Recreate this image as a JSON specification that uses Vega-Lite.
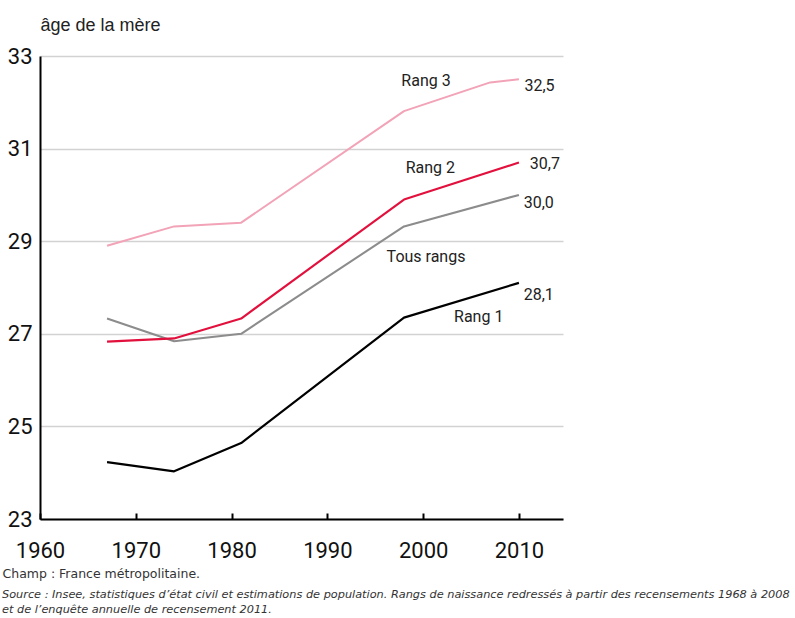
{
  "$schema": "https://vega.github.io/schema/vega-lite/v6.json",
  "autosize": "none",
  "width": 523,
  "height": 463,
  "padding": {"left": 40, "top": 56, "right": 232, "bottom": 99},
  "background": "white",
  "config": {"view": {"stroke": null}},
  "title": {
    "text": ["Source : Insee, statistiques d’état civil et estimations de population. Rangs de naissance redressés à partir des recensements 1968 à 2008", "et de l’enquête annuelle de recensement 2011."],
    "orient": "bottom",
    "anchor": "start",
    "frame": "group",
    "dx": -38,
    "offset": 9,
    "baseline": "top",
    "font": "DejaVu Sans",
    "fontStyle": "italic",
    "fontWeight": "normal",
    "fontSize": 11.3,
    "lineHeight": 15,
    "color": "#333333"
  },
  "datasets": {
    "series": [
      {"serie": "Rang 3", "year": 1967, "age": 28.9},
      {"serie": "Rang 3", "year": 1974, "age": 29.32},
      {"serie": "Rang 3", "year": 1981, "age": 29.4},
      {"serie": "Rang 3", "year": 1998, "age": 31.81},
      {"serie": "Rang 3", "year": 2007, "age": 32.43},
      {"serie": "Rang 3", "year": 2010, "age": 32.5},
      {"serie": "Tous rangs", "year": 1967, "age": 27.33},
      {"serie": "Tous rangs", "year": 1974, "age": 26.84},
      {"serie": "Tous rangs", "year": 1981, "age": 27.0},
      {"serie": "Tous rangs", "year": 1998, "age": 29.32},
      {"serie": "Tous rangs", "year": 2010, "age": 30.0},
      {"serie": "Rang 2", "year": 1967, "age": 26.83},
      {"serie": "Rang 2", "year": 1974, "age": 26.9},
      {"serie": "Rang 2", "year": 1981, "age": 27.33},
      {"serie": "Rang 2", "year": 1998, "age": 29.9},
      {"serie": "Rang 2", "year": 2010, "age": 30.7},
      {"serie": "Rang 1", "year": 1967, "age": 24.23},
      {"serie": "Rang 1", "year": 1974, "age": 24.03},
      {"serie": "Rang 1", "year": 1981, "age": 24.64},
      {"serie": "Rang 1", "year": 1998, "age": 27.35},
      {"serie": "Rang 1", "year": 2010, "age": 28.1}
    ],
    "labels": [
      {"label": "Rang 3", "kind": "serie", "year": 2000.3, "age": 32.35},
      {"label": "Rang 2", "kind": "serie", "year": 2000.75, "age": 30.48},
      {"label": "Tous rangs", "kind": "serie", "year": 2000.3, "age": 28.55},
      {"label": "Rang 1", "kind": "serie", "year": 2005.8, "age": 27.25},
      {"label": "32,5", "kind": "valeur", "year": 2010.57, "age": 32.25},
      {"label": "30,7", "kind": "valeur", "year": 2011.13, "age": 30.56},
      {"label": "30,0", "kind": "valeur", "year": 2010.5, "age": 29.71},
      {"label": "28,1", "kind": "valeur", "year": 2010.5, "age": 27.72}
    ]
  },
  "encoding": {
    "x": {
      "field": "year",
      "type": "quantitative",
      "scale": {"domain": [1960, 2014.6], "nice": false, "zero": false},
      "axis": {
        "values": [1960, 1970, 1980, 1990, 2000, 2010],
        "format": "d",
        "grid": false,
        "domainColor": "#000000",
        "domainWidth": 2,
        "ticks": true,
        "tickSize": -6,
        "tickWidth": 2,
        "tickColor": "#000000",
        "labelFont": "Roboto",
        "labelFontSize": 22,
        "labelColor": "#111111",
        "labelBaseline": "alphabetic",
        "labelPadding": 44,
        "labelFlush": false,
        "labelOverlap": false,
        "title": "Champ : France métropolitaine.",
        "titleFont": "DejaVu Sans",
        "titleFontSize": 12.5,
        "titleFontWeight": "normal",
        "titleColor": "#333333",
        "titleAlign": "left",
        "titleBaseline": "alphabetic",
        "titleAnchor": "start",
        "titleX": -38,
        "titleY": 58
      }
    },
    "y": {
      "field": "age",
      "type": "quantitative",
      "scale": {"domain": [23, 33], "nice": false, "zero": false},
      "axis": {
        "values": [23, 25, 27, 29, 31, 33],
        "grid": true,
        "gridColor": "#d2d2d2",
        "gridWidth": 1.5,
        "domainColor": "#000000",
        "domainWidth": 2,
        "ticks": false,
        "labelFont": "Roboto",
        "labelFontSize": 22,
        "labelColor": "#111111",
        "labelPadding": 8,
        "labelBaseline": "middle",
        "labelFlush": false,
        "labelOverlap": false,
        "title": "âge de la mère",
        "titleFont": "Liberation Sans",
        "titleFontSize": 18,
        "titleFontWeight": "normal",
        "titleColor": "#222222",
        "titleAngle": 0,
        "titleAlign": "left",
        "titleBaseline": "alphabetic",
        "titleX": 0,
        "titleY": -26
      }
    }
  },
  "layer": [
    {
      "data": {"name": "series"},
      "mark": {"type": "line", "strokeJoin": "round", "strokeCap": "butt"},
      "encoding": {
        "color": {
          "field": "serie",
          "type": "nominal",
          "scale": {"domain": ["Rang 3", "Tous rangs", "Rang 2", "Rang 1"], "range": ["#f2a3b7", "#8c8c8c", "#e2103c", "#000000"]},
          "legend": null
        },
        "strokeWidth": {
          "field": "serie",
          "type": "nominal",
          "scale": {"domain": ["Rang 3", "Tous rangs", "Rang 2", "Rang 1"], "range": [2, 2.2, 2.8, 3]},
          "legend": null
        }
      }
    },
    {
      "data": {"name": "labels"},
      "transform": [{"filter": "datum.kind === 'serie'"}],
      "mark": {"type": "text", "align": "center", "baseline": "alphabetic", "font": "Roboto", "fontSize": 16, "color": "#222222"},
      "encoding": {"text": {"field": "label"}}
    },
    {
      "data": {"name": "labels"},
      "transform": [{"filter": "datum.kind === 'valeur'"}],
      "mark": {"type": "text", "align": "left", "baseline": "alphabetic", "font": "Roboto", "fontSize": 16, "color": "#222222"},
      "encoding": {"text": {"field": "label"}}
    }
  ]
}
